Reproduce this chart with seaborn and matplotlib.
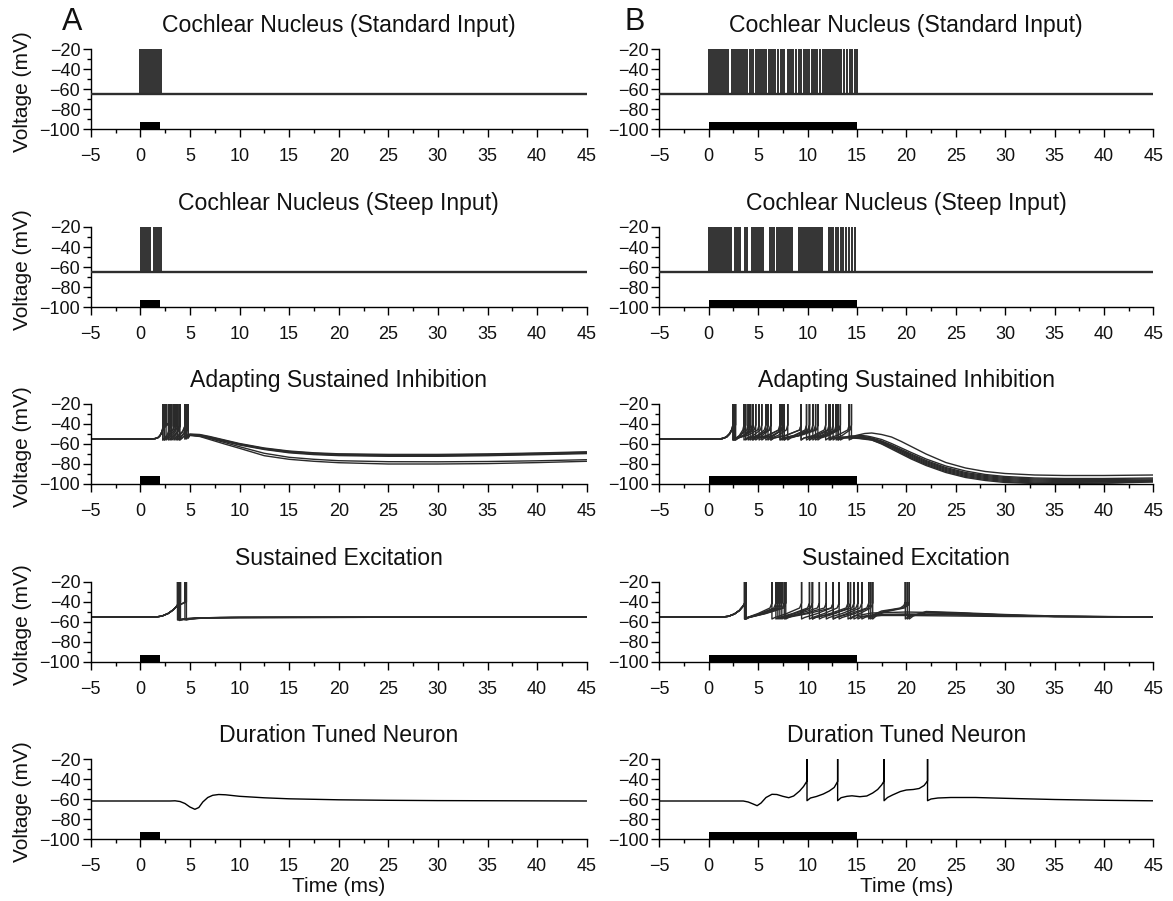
import matplotlib
matplotlib.use("Agg")
import matplotlib.pyplot as plt
from matplotlib.ticker import MultipleLocator
import numpy as np
import pandas as pd
import seaborn as sns

# ---------------------------------------------------------------------------
# Data (times in ms, membrane voltage in mV)
# ---------------------------------------------------------------------------
SPIKE_PEAK = 20.0           # spikes overshoot the -20 mV top of the window
P = SPIKE_PEAK

ROW_TITLES = [
    "Cochlear Nucleus (Standard Input)",
    "Cochlear Nucleus (Steep Input)",
    "Adapting Sustained Inhibition",
    "Sustained Excitation",
    "Duration Tuned Neuron",
]
PANEL_LETTERS = ["A", "B"]
STIM_DURATION = [2.0, 15.0]     # A: short tone, B: long tone
STIM_TOP = -92.5
XTICKS = [-5, 0, 5, 10, 15, 20, 25, 30, 35, 40, 45]
YTICKS = [-100, -80, -60, -40, -20]

# Cochlear nucleus inputs: resting level and pooled spike times over trials
CN_REST = -64.5
CN_STD_A_SPIKES = [0.02, 0.09, 0.16, 0.24, 0.31, 0.38, 0.47, 0.55, 0.63, 0.7,
                   0.79, 0.88, 0.96, 1.15, 1.22, 1.3, 1.38, 1.46, 1.66, 1.73,
                   1.8, 1.88, 1.97, 2.05, 2.12]
CN_STD_B_SPIKES = [0.0, 0.08, 0.15, 0.22, 0.3, 0.37, 0.45, 0.52, 0.6, 0.68,
                   0.75, 0.83, 0.9, 0.98, 1.05, 1.13, 1.2, 1.3, 1.38, 1.47,
                   1.55, 1.63, 1.72, 1.8, 1.9, 2.0, 2.4, 2.55, 2.7, 2.85,
                   3.05, 3.3, 3.45, 3.7, 3.85, 4.2, 4.35, 4.5, 4.75, 5.0,
                   5.15, 5.4, 5.55, 5.7, 5.85, 6.1, 6.3, 6.5, 6.6, 6.75,
                   7.0, 7.3, 7.45, 7.6, 8.0, 8.2, 8.35, 8.5, 8.8, 9.1,
                   9.3, 9.6, 9.75, 9.9, 10.2, 10.5, 10.65, 10.8, 11.0, 11.3,
                   11.6, 11.75, 11.9, 12.1, 12.3, 12.5, 12.65, 12.8, 13.0,
                   13.2, 13.4, 13.7, 14.0, 14.3, 14.5, 14.8, 15.0]
CN_STEEP_A_SPIKES = [0.03, 0.1, 0.18, 0.27, 0.35, 0.43, 0.52, 0.6, 0.69,
                     0.77, 0.86, 0.94, 1.36, 1.45, 1.53, 1.62, 1.7, 1.79,
                     1.88, 1.97, 2.06]
CN_STEEP_B_SPIKES = [0.0, 0.07, 0.14, 0.21, 0.29, 0.36, 0.44, 0.51, 0.59,
                     0.66, 0.74, 0.82, 0.9, 0.97, 1.05, 1.13, 1.21, 1.3,
                     1.38, 1.46, 1.55, 1.64, 1.73, 1.82, 1.92, 2.02, 2.15,
                     2.3, 2.7, 2.85, 3.0, 3.15, 3.7, 3.85, 4.4, 4.55, 4.7,
                     4.85, 5.0, 5.15, 5.3, 5.45, 6.2, 6.35, 6.5, 6.65, 6.9,
                     7.1, 7.3, 7.5, 7.7, 7.85, 8.0, 8.15, 8.3, 8.45, 9.1,
                     9.25, 9.4, 9.55, 9.7, 9.85, 10.0, 10.2, 10.4, 10.55,
                     10.7, 10.9, 11.1, 11.3, 11.45, 12.2, 12.4, 12.6, 12.9,
                     13.1, 13.4, 13.6, 13.9, 14.15, 14.5, 14.8]

# Adapting sustained inhibition, short tone
ASI_A_ONSET = [(-5, -55), (1.0, -55), (1.5, -54.6), (1.8, -53.5), (2.0, -51.5),
               (2.15, -48.5)]
ASI_A_SPIKING = [
    [(2.27, -44), (2.27, P), (2.27, -56), (2.5, -54), (2.9, -51), (3.2, -47.5),
     (3.4, -42), (3.4, P), (3.4, -56), (3.65, -54), (4.0, -51), (4.3, -47.5),
     (4.5, -42), (4.5, P), (4.5, -55), (4.75, -51)],
    [(2.25, -46), (2.43, -41), (2.43, P), (2.43, -56), (2.7, -54), (3.1, -50.5),
     (3.4, -47), (3.6, -42), (3.6, P), (3.6, -56), (3.85, -54), (4.25, -51),
     (4.6, -47), (4.83, -42), (4.83, P), (4.83, -54)],
    [(2.3, -45.5), (2.45, -43), (2.6, -40), (2.6, P), (2.6, -56), (2.85, -54),
     (3.25, -51), (3.55, -47), (3.77, -42), (3.77, P), (3.77, -56), (4.0, -54),
     (4.3, -50.5), (4.5, -47), (4.67, -42), (4.67, P), (4.67, -55), (4.85, -52)],
    [(2.27, -44), (2.27, P), (2.27, -56), (2.45, -54), (2.7, -51), (2.88, -47),
     (3.0, -42), (3.0, P), (3.0, -56), (3.25, -54), (3.55, -51), (3.8, -47),
     (3.93, -42), (3.93, P), (3.93, -56), (4.2, -53.5), (4.6, -51.5)],
    [(2.3, -45.5), (2.5, -43), (2.7, -41), (2.83, -39), (2.83, P), (2.83, -56),
     (3.1, -54), (3.45, -51), (3.8, -47), (4.0, -42), (4.0, P), (4.0, -56),
     (4.25, -54), (4.5, -50.5), (4.7, -46.5), (4.83, -42), (4.83, P),
     (4.83, -54)],
    [(2.25, -46), (2.43, -41), (2.43, P), (2.43, -56), (2.62, -54), (2.88, -51),
     (3.05, -47), (3.17, -42), (3.17, P), (3.17, -56), (3.45, -54), (3.85, -51),
     (4.25, -47.5), (4.5, -42), (4.5, P), (4.5, -55), (4.75, -52)],
]
ASI_A_DECAY_T = [5.0, 6.0, 7.0, 8.5, 10, 12.5, 15, 17.5, 20, 25, 30, 35, 40, 45]
ASI_A_DECAY_V = [
    [-50, -50.5, -52.5, -56, -59.5, -64, -67, -68.8, -69.8, -70.4, -70.4, -69.9, -69, -67.8],
    [-50.5, -51, -53, -56.5, -60, -64.5, -67.5, -69.3, -70.3, -71, -71, -70.4, -69.4, -68.3],
    [-51, -51.5, -53.5, -57, -60.5, -65, -68.2, -70, -71, -71.7, -71.7, -71.1, -70.1, -69],
    [-51, -52, -54.5, -58.5, -62.7, -69.3, -73.3, -75.3, -76.7, -77.7, -77.8, -77.5, -76.8, -75.7],
    [-51, -52, -54, -57.5, -61, -65.5, -68.8, -70.6, -71.6, -72.3, -72.3, -71.7, -70.7, -69.6],
    [-51.5, -52.5, -55.5, -60, -64.3, -71.7, -75.3, -77.3, -78.7, -80, -80, -79.6, -78.6, -77.3],
]

# Adapting sustained inhibition, long tone
ASI_B_ONSET = [(-5, -55), (1.0, -55), (1.4, -54.5), (1.8, -53), (2.1, -50),
               (2.3, -46.5)]
ASI_B_SPIKING = [
    [(2.45, -41), (2.45, P), (2.45, -56), (2.75, -54), (3.6, -51.5), (4.6, -46),
     (4.76, -41), (4.76, P), (4.76, -56), (5.06, -54), (6.0, -51.5), (7.05, -46),
     (7.2, -41), (7.2, P), (7.2, -56), (7.5, -54), (8.7, -51.5), (10.05, -46),
     (10.2, -41), (10.2, P), (10.2, -56), (10.5, -54), (11.4, -51.5),
     (12.44, -46), (12.59, -41), (12.59, P), (12.59, -56), (12.89, -54),
     (13.5, -51.5), (14.3, -46), (14.45, -41), (14.45, P), (14.45, -55),
     (14.9, -51.5), (15.8, -49.5)],
    [(2.45, -44), (2.62, -41), (2.62, P), (2.62, -56), (2.92, -54), (3.9, -51.5),
     (4.95, -46), (5.1, -41), (5.1, P), (5.1, -56), (5.4, -54), (6.4, -51.5),
     (7.5, -46), (7.65, -41), (7.65, P), (7.65, -56), (7.95, -54), (9.1, -51.5),
     (10.39, -46), (10.54, -41), (10.54, P), (10.54, -56), (10.84, -54),
     (11.8, -51.5), (12.95, -46), (13.1, -41), (13.1, P), (13.1, -56),
     (13.4, -54), (14.3, -52), (15.5, -51.5), (16.0, -52)],
    [(2.45, -44), (2.6, -42.5), (2.72, -41), (2.72, P), (2.72, -56), (3.0, -54),
     (3.6, -51.5), (4.27, -46), (4.42, -41), (4.42, P), (4.42, -56), (4.7, -54),
     (5.4, -51.5), (6.14, -46), (6.29, -41), (6.29, P), (6.29, -56), (6.6, -54),
     (7.8, -51.5), (9.2, -46), (9.35, -41), (9.35, P), (9.35, -56), (9.65, -54),
     (10.6, -51.5), (11.69, -46), (11.84, -41), (11.84, P), (11.84, -56),
     (12.14, -54), (13.0, -51.5), (14.07, -46), (14.22, -41), (14.22, P),
     (14.22, -56), (14.6, -53.5), (15.5, -52.5), (16.0, -53)],
    [(2.45, -41), (2.45, P), (2.45, -56), (2.75, -54), (3.2, -51.5), (3.85, -46),
     (4.0, -41), (4.0, P), (4.0, -56), (4.3, -54), (4.9, -51.5), (5.63, -46),
     (5.78, -41), (5.78, P), (5.78, -56), (6.08, -54), (6.6, -51.5), (7.33, -46),
     (7.48, -41), (7.48, P), (7.48, -56), (7.78, -54), (9.1, -51.5),
     (10.67, -46), (10.82, -41), (10.82, P), (10.82, -56), (11.12, -54),
     (12.1, -51.5), (13.18, -46), (13.33, -41), (13.33, P), (13.33, -56),
     (13.7, -54), (14.6, -53), (15.6, -53), (16.0, -53.5)],
    [(2.45, -43), (2.55, -41), (2.55, P), (2.55, -56), (2.8, -54), (3.1, -51.5),
     (3.45, -46), (3.57, -41), (3.57, P), (3.57, -56), (3.87, -54), (4.5, -51.5),
     (5.22, -46), (5.37, -41), (5.37, P), (5.37, -56), (5.67, -54), (6.5, -51.5),
     (7.5, -46), (7.65, -41), (7.65, P), (7.65, -56), (7.95, -54), (9.3, -51.5),
     (10.9, -46), (11.05, -41), (11.05, P), (11.05, -56), (11.35, -54),
     (12.1, -51.5), (12.95, -46), (13.1, -41), (13.1, P), (13.1, -56),
     (13.4, -54), (14.3, -53), (15.5, -53.5), (16.0, -54)],
    [(2.45, -44), (2.62, -41), (2.62, P), (2.62, -56), (2.9, -54), (3.2, -51.5),
     (3.6, -46), (3.74, -41), (3.74, P), (3.74, -56), (4.04, -54), (5.0, -51.5),
     (6.14, -46), (6.29, -41), (6.29, P), (6.29, -56), (6.6, -54), (7.8, -51.5),
     (9.2, -46), (9.35, -41), (9.35, P), (9.35, -56), (9.65, -54), (10.8, -51.5),
     (12.03, -46), (12.18, -41), (12.18, P), (12.18, -56), (12.5, -54),
     (13.5, -53), (14.8, -53.5), (16.0, -54.5)],
    [(2.45, -44), (2.6, -42.5), (2.7, -41), (2.7, P), (2.7, -56), (3.0, -54),
     (3.5, -51.5), (4.05, -46), (4.2, -41), (4.2, P), (4.2, -56), (4.5, -54),
     (5.1, -51.5), (5.85, -46), (6.0, -41), (6.0, P), (6.0, -56), (6.3, -54),
     (7.0, -51.5), (7.85, -46), (8.0, -41), (8.0, P), (8.0, -56), (8.3, -54),
     (9.1, -51.5), (10.05, -46), (10.2, -41), (10.2, P), (10.2, -56),
     (10.5, -54), (11.6, -51.5), (12.75, -46), (12.9, -41), (12.9, P),
     (12.9, -56), (13.2, -54), (14.3, -53.5), (15.5, -54.5), (16.0, -55)],
    [(2.45, -43), (2.5, -41), (2.5, P), (2.5, -56), (2.8, -54), (3.6, -51.5),
     (4.35, -46), (4.5, -41), (4.5, P), (4.5, -56), (4.8, -54), (5.9, -51.5),
     (7.15, -46), (7.3, -41), (7.3, P), (7.3, -56), (7.6, -54), (8.6, -51.5),
     (9.75, -46), (9.9, -41), (9.9, P), (9.9, -56), (10.2, -54), (11.1, -51.5),
     (12.15, -46), (12.3, -41), (12.3, P), (12.3, -56), (12.6, -54),
     (13.8, -53.5), (15.2, -54.5), (16.0, -55.5)],
]
ASI_B_DECAY_T = [16.5, 17.5, 18.5, 19.5, 20.5, 22, 24, 26, 28, 30, 33, 36, 40, 45]
ASI_B_DECAY_V = [
    [-49, -50.5, -53, -57.5, -62.5, -70, -78.5, -84, -87.5, -89.5, -91, -91.5, -91.5, -91],
    [-53, -55.5, -59.5, -64, -68.5, -75, -82, -87, -90.5, -92.5, -94, -94.5, -94.5, -94],
    [-54, -57, -61, -65.5, -70, -76.5, -83.5, -88.5, -91.5, -93.5, -95, -95.5, -95.5, -95],
    [-54.5, -57.5, -61.5, -66.5, -71, -77.5, -84.5, -89.5, -92.5, -94.5, -96, -96.5, -96.5, -96],
    [-55, -58, -62.5, -67, -72, -78.5, -85.5, -90.5, -93.5, -95.5, -97, -97.5, -97.5, -96.5],
    [-55.5, -58.5, -63, -68, -73, -79.5, -86.5, -91.5, -94.5, -96.5, -98, -98.5, -98, -97],
    [-56, -59.5, -64, -69, -74, -80.5, -87.5, -92.5, -95.5, -97.5, -99, -99.3, -99, -97.5],
    [-56, -60, -65, -70, -75, -81.5, -88.5, -93.5, -96.5, -98.5, -99.5, -99.5, -99.2, -98],
]

# Sustained excitation, short tone
SE_A_ONSET = [(-5, -55), (1.6, -55), (2.2, -54), (2.8, -51.5), (3.3, -48),
              (3.6, -45)]
SE_A_TRIALS = [
    [(3.75, -42.5), (3.75, P), (3.75, -58), (4.2, -57), (5.5, -56), (8, -55.5),
     (15, -55.2), (45, -55)],
    [(3.85, -41.5), (3.85, P), (3.85, -58), (4.3, -57), (5.5, -56), (8, -55.5),
     (15, -55.3), (45, -55)],
    [(3.95, -40.5), (3.95, P), (3.95, -58.5), (4.4, -57.3), (6, -56), (9, -55.5),
     (45, -55)],
    [(3.9, -43), (4.2, -41.5), (4.5, -40), (4.5, P), (4.5, -58), (4.9, -57),
     (6, -56), (9, -55.5), (45, -55)],
    [(3.9, -43.5), (4.3, -41.5), (4.65, -40), (4.65, P), (4.65, -58),
     (5.1, -57), (6.5, -56), (10, -55.5), (45, -55)],
    [(4.05, -40), (4.05, P), (4.05, -58), (4.4, -57.5), (6, -56.2), (10, -55.5),
     (45, -55)],
]

# Sustained excitation, long tone
SE_B_ONSET = [(-5, -55), (1.4, -55), (2.0, -54.3), (2.6, -52), (3.1, -48.5),
              (3.45, -44.5)]
SE_B_TRIALS = [
    [(3.62, -41), (3.62, P), (3.62, -57), (3.9, -55.5), (5.0, -51.5), (6.2, -46),
     (6.4, -41), (6.4, P), (6.4, -57), (6.7, -55.5), (7.9, -51.5), (9.2, -46),
     (9.4, -41), (9.4, P), (9.4, -57), (9.7, -55.5), (11.0, -51.5), (12.4, -46),
     (12.6, -41), (12.6, P), (12.6, -57), (12.9, -55.5), (14.4, -51.5),
     (16.0, -46), (16.2, -41), (16.2, P), (16.2, -57), (16.6, -53), (17.5, -49),
     (18.5, -47.5), (19.4, -46), (19.75, -43.5), (19.9, -40), (19.9, P),
     (19.9, -57), (20.3, -54), (22, -51), (25, -51.5), (30, -53.5),
     (35, -54.5), (45, -55)],
    [(3.68, -41), (3.68, P), (3.68, -57), (3.95, -55.5), (5.2, -51.5),
     (6.6, -46), (6.8, -41), (6.8, P), (6.8, -57), (7.1, -55.5), (8.5, -51.5),
     (10.0, -46), (10.2, -41), (10.2, P), (10.2, -57), (10.5, -55.5),
     (11.7, -51.5), (13.0, -46), (13.2, -41), (13.2, P), (13.2, -57),
     (13.5, -55.5), (14.8, -51.5), (16.2, -46), (16.4, -41), (16.4, P),
     (16.4, -57), (16.8, -53.5), (17.5, -50), (18.5, -48), (19.6, -46),
     (19.95, -43.5), (20.1, -40), (20.1, P), (20.1, -57), (20.5, -54),
     (22, -50), (25, -51), (30, -53), (35, -54.5), (45, -55)],
    [(3.72, -41), (3.72, P), (3.72, -57), (4.0, -55.5), (5.3, -51.5),
     (6.8, -46), (7.0, -41), (7.0, P), (7.0, -57), (7.3, -55.5), (8.7, -51.5),
     (10.3, -46), (10.5, -41), (10.5, P), (10.5, -57), (10.8, -55.5),
     (12.3, -51.5), (13.9, -46), (14.1, -41), (14.1, P), (14.1, -57),
     (14.4, -55.5), (15.3, -51.5), (16.4, -46), (16.6, -41), (16.6, P),
     (16.6, -57), (17.0, -53.5), (17.8, -50), (18.8, -48), (19.8, -46),
     (20.15, -43.5), (20.3, -40), (20.3, P), (20.3, -57), (20.7, -54),
     (22, -49.5), (25, -50.5), (30, -52.5), (35, -54), (45, -55)],
    [(3.65, -41), (3.65, P), (3.65, -57), (3.95, -55.5), (5.4, -51.5),
     (7.0, -46), (7.2, -41), (7.2, P), (7.2, -57), (7.5, -55.5), (9.2, -51.5),
     (11.0, -46), (11.2, -41), (11.2, P), (11.2, -57), (11.5, -55.5),
     (12.8, -51.5), (14.15, -46), (14.35, -41), (14.35, P), (14.35, -57),
     (14.8, -54), (16.5, -51), (20, -50), (25, -51), (30, -53), (35, -54.5),
     (45, -55)],
    [(3.75, -41), (3.75, P), (3.75, -57), (4.05, -55.5), (5.6, -51.5),
     (7.2, -46), (7.4, -41), (7.4, P), (7.4, -57), (7.7, -55.5), (9.7, -51.5),
     (11.7, -46), (11.9, -41), (11.9, P), (11.9, -57), (12.2, -55.5),
     (13.5, -51.5), (14.9, -46), (15.1, -41), (15.1, P), (15.1, -57),
     (15.5, -55), (17, -53), (20, -52.5), (25, -53), (30, -54), (45, -55)],
    [(3.7, -41), (3.7, P), (3.7, -57), (4.0, -55.5), (5.7, -51.5), (7.45, -46),
     (7.65, -41), (7.65, P), (7.65, -57), (7.95, -55.5), (10.1, -51.5),
     (12.4, -46), (12.6, -41), (12.6, P), (12.6, -57), (12.9, -55.5),
     (14.0, -51.5), (15.3, -46), (15.5, -41), (15.5, P), (15.5, -57),
     (15.9, -55), (17.5, -53.5), (20, -53.5), (25, -54), (30, -54.5), (45, -55)],
    [(3.8, -41), (3.8, P), (3.8, -57), (4.1, -55.5), (5.8, -51.5), (7.6, -46),
     (7.8, -41), (7.8, P), (7.8, -57), (8.1, -55.5), (9.1, -51.5), (10.3, -46),
     (10.5, -41), (10.5, P), (10.5, -57), (10.8, -55.5), (12.6, -51.5),
     (14.5, -46), (14.7, -41), (14.7, P), (14.7, -57), (15.1, -55),
     (16.8, -52.5), (20, -52), (25, -52.5), (30, -54), (45, -55)],
]

# Duration tuned neuron (single sweep per condition)
DTN_A = [(-5, -62), (3.0, -62), (3.5, -61.8), (4.0, -62.5), (4.5, -64.5),
         (5.0, -68), (5.5, -70.3), (5.9, -68.5), (6.3, -63), (6.8, -58.5),
         (7.3, -56.3), (7.9, -55.5), (8.6, -55.8), (10, -57.3), (12.5, -58.8),
         (15, -59.8), (20, -60.8), (25, -61.3), (30, -61.6), (45, -62)]
DTN_B = [(-5, -62), (3.5, -62), (4.0, -63), (4.5, -65), (4.9, -66.7),
         (5.3, -64), (5.8, -58.5), (6.4, -55.3), (6.9, -55.5), (7.5, -57.3),
         (8.1, -58.7), (8.6, -57), (9.2, -52), (9.6, -47.5), (9.95, -42),
         (9.95, P), (9.95, -61.7), (10.3, -59), (10.9, -57.5), (11.6, -55),
         (12.2, -52), (12.7, -48.5), (13.05, -42.5), (13.05, P), (13.05, -61.7),
         (13.4, -58.7), (14.0, -57.3), (14.5, -56.8), (15.3, -57.7), (16.0, -57),
         (16.6, -54), (17.1, -50.5), (17.5, -46), (17.75, -42), (17.75, P),
         (17.75, -61.7), (18.1, -58.5), (18.6, -56), (19.4, -52.5), (20.0, -51),
         (20.7, -50.5), (21.3, -49.5), (21.8, -46.5), (22.15, -42), (22.15, P),
         (22.15, -61.7), (22.5, -60), (23.2, -59), (24.5, -58.5), (27, -58.5),
         (30, -59.3), (35, -60.5), (40, -61.3), (45, -61.8)]


# ---------------------------------------------------------------------------
# Assemble sweeps
# ---------------------------------------------------------------------------
def cn_sweep(rest, spikes):
    knots = [(-5, rest)]
    for ts in spikes:
        knots += [(ts, rest), (ts, SPIKE_PEAK), (ts, rest)]
    knots.append((45, rest))
    return [knots]


def with_decay(onset, spiking, decay_t, decay_v):
    return [onset + part + list(zip(decay_t, dv))
            for part, dv in zip(spiking, decay_v)]


SWEEPS = [
    [cn_sweep(CN_REST, CN_STD_A_SPIKES), cn_sweep(CN_REST, CN_STD_B_SPIKES)],
    [cn_sweep(CN_REST, CN_STEEP_A_SPIKES), cn_sweep(CN_REST, CN_STEEP_B_SPIKES)],
    [with_decay(ASI_A_ONSET, ASI_A_SPIKING, ASI_A_DECAY_T, ASI_A_DECAY_V),
     with_decay(ASI_B_ONSET, ASI_B_SPIKING, ASI_B_DECAY_T, ASI_B_DECAY_V)],
    [[SE_A_ONSET + tr for tr in SE_A_TRIALS],
     [SE_B_ONSET + tr for tr in SE_B_TRIALS]],
    [[DTN_A], [DTN_B]],
]


def sweeps_frame(sweeps):
    rows = []
    for k, knots in enumerate(sweeps):
        for i, (t, v) in enumerate(knots):
            rows.append((k, i, t, v))
    return pd.DataFrame(rows, columns=["trial", "step", "t", "v"])


# ---------------------------------------------------------------------------
# Figure
# ---------------------------------------------------------------------------
sns.set_theme(style="ticks")
plt.rcParams["font.family"] = ["Liberation Sans", "DejaVu Sans"]
plt.rcParams["axes.unicode_minus"] = True

FIG_W, FIG_H = 1173, 901
COL_LEFT = [90.7, 659.3]
COL_WIDTH = [496, 494]
ROW_TOP = [49, 227, 404, 582, 759]
ROW_H = 80

fig = plt.figure(figsize=(FIG_W / 100, FIG_H / 100), dpi=100)
fig.patch.set_facecolor("white")

TEXT = "#111111"
for r in range(5):
    for c in range(2):
        ax = fig.add_axes([COL_LEFT[c] / FIG_W,
                           1 - (ROW_TOP[r] + ROW_H) / FIG_H,
                           COL_WIDTH[c] / FIG_W, ROW_H / FIG_H])
        df = sweeps_frame(SWEEPS[r][c])
        if r < 2:
            color, lw = "#363636", 1.1
        elif r < 4:
            color, lw = "#2a2a2a", 1.0
        else:
            color, lw = "#000000", 1.0
        sns.lineplot(data=df, x="t", y="v", units="trial", estimator=None,
                     sort=False, color=color, lw=lw, ax=ax, legend=False)
        if r < 2:
            # resting level shared by all overlaid input sweeps
            ax.hlines(CN_REST, -5, 45, color="#2e2e2e", lw=1.7, zorder=3)
        # stimulus marker
        ax.bar(0, STIM_TOP - (-100), bottom=-100, width=STIM_DURATION[c],
               align="edge", color="black", lw=0, zorder=3)

        ax.set_xlim(-5, 45)
        ax.set_ylim(-100, -20)
        ax.set_xticks(XTICKS)
        ax.set_yticks(YTICKS)
        ax.xaxis.set_minor_locator(MultipleLocator(2.5))
        ax.yaxis.set_minor_locator(MultipleLocator(10))
        ax.tick_params(which="major", length=5.5, width=1.0, color="black",
                       labelsize=13, labelcolor=TEXT, direction="out")
        ax.tick_params(which="minor", length=3, width=1.0, color="black",
                       direction="out")
        ax.tick_params(axis="y", pad=2)
        ax.tick_params(axis="x", pad=8)
        sns.despine(ax=ax)
        for side in ("left", "bottom"):
            ax.spines[side].set_linewidth(1.0)
            ax.spines[side].set_color("black")
        ax.set_facecolor("white")
        ax.set_title(ROW_TITLES[r], fontsize=16.6, color=TEXT, pad=12)
        ax.set_xlabel("")
        ax.set_ylabel("")
        if c == 0:
            ax.set_ylabel("Voltage (mV)", fontsize=15, color=TEXT)
            ax.yaxis.set_label_coords((32 - COL_LEFT[0]) / COL_WIDTH[0], 0.47)
        if r == 4:
            ax.set_xlabel("Time (ms)", fontsize=15, color=TEXT)
            ax.xaxis.set_label_coords(0.5, -0.47)

for c, letter in enumerate(PANEL_LETTERS):
    fig.text([72, 635][c] / FIG_W, 1 - 22.5 / FIG_H, letter, fontsize=22,
             color=TEXT, ha="center", va="center")

fig.savefig("out.png", dpi=100, facecolor="white")
